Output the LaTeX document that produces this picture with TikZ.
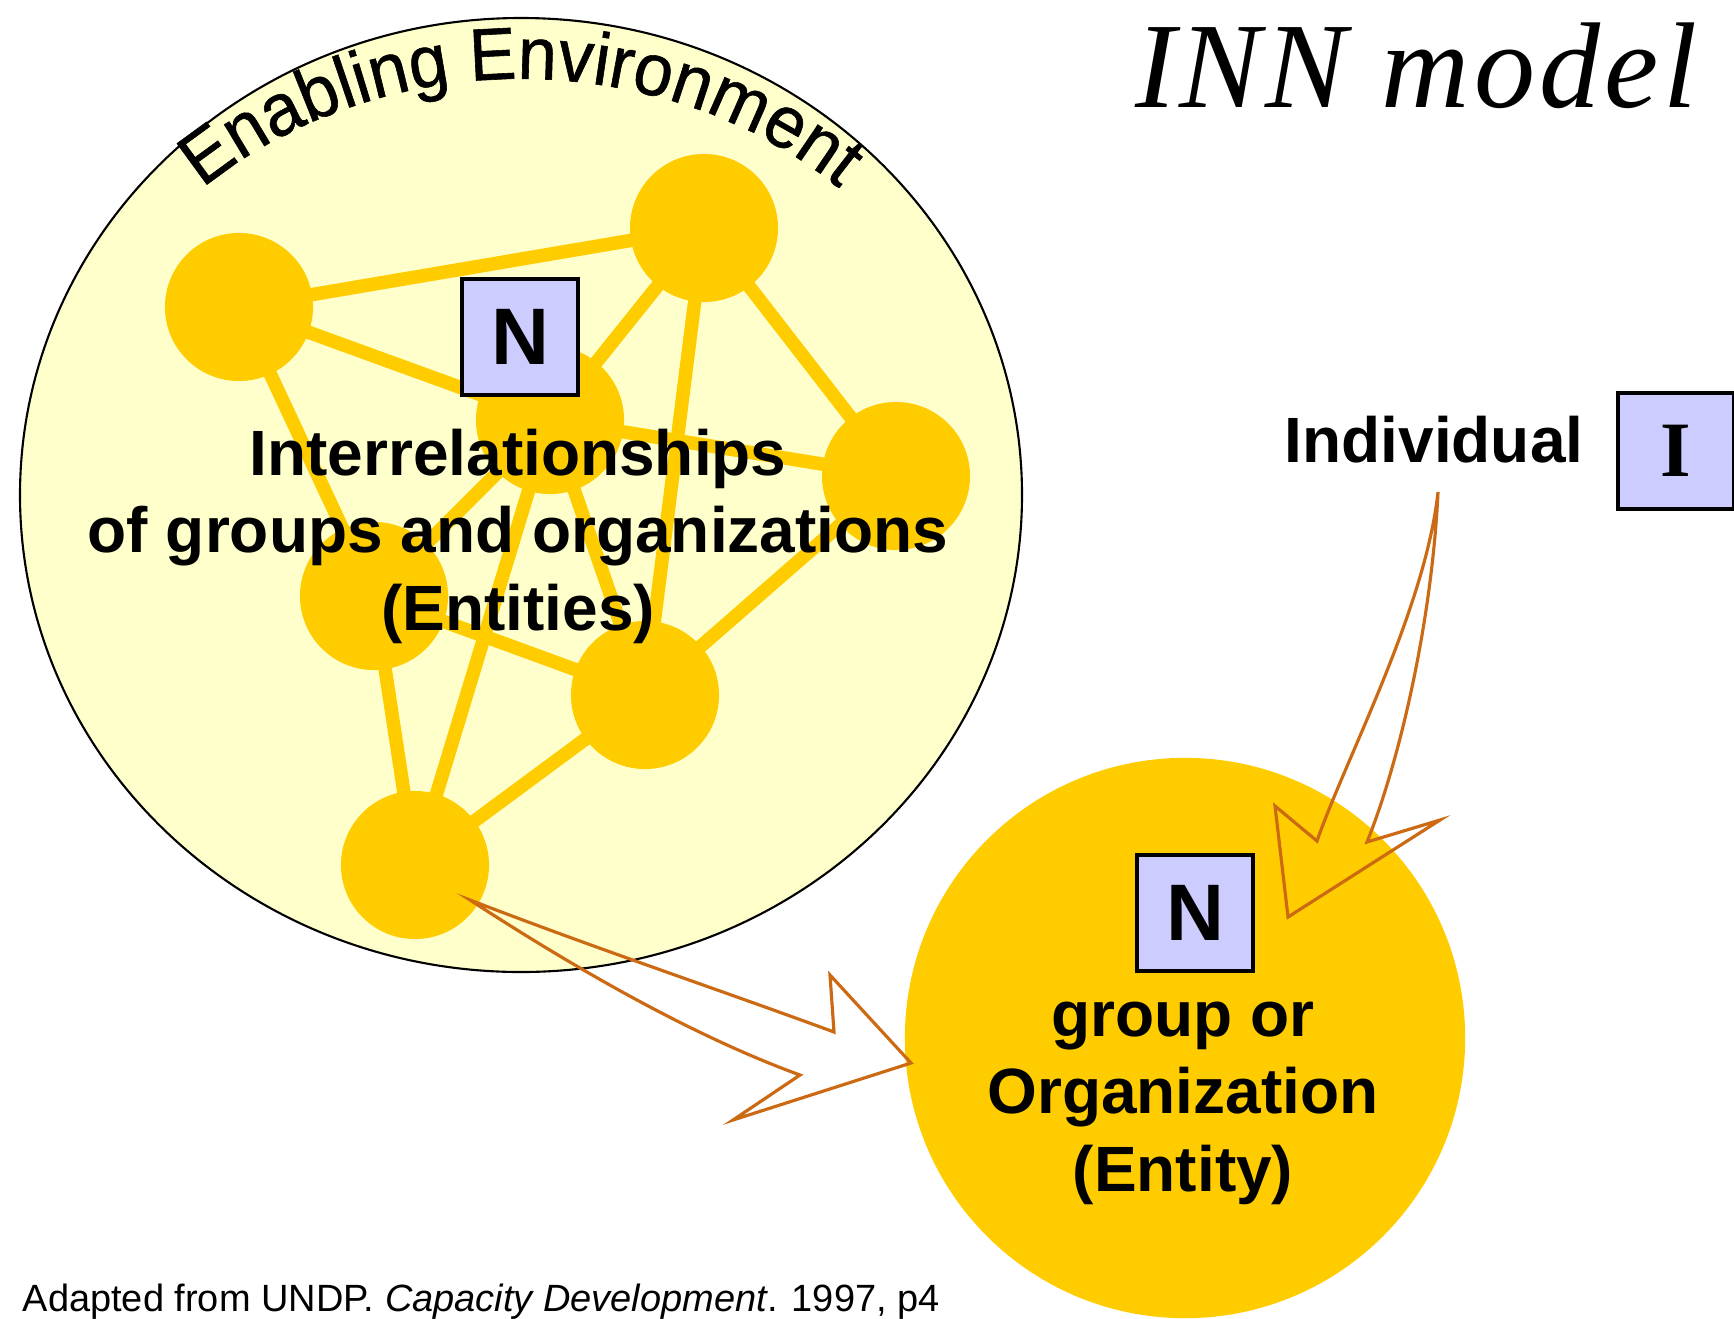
\documentclass[tikz,border=0pt]{standalone}
\usepackage{fontspec}
\setmainfont{Liberation Sans}
\newfontfamily\serifface{Liberation Serif}
\newfontfamily\titleface[LetterSpace=3.5]{Liberation Serif}
\newfontfamily\arcface[FakeStretch=0.95, FakeBold=0.8]{Liberation Sans}
\usepackage{xcolor}
\usepackage{tikz}
\usetikzlibrary{calc}
\usetikzlibrary{decorations.text}

\definecolor{envyellow}{HTML}{FFFFCC}
\definecolor{entgold}{HTML}{FFCC00}
\definecolor{boxlilac}{HTML}{CCCCFF}
\definecolor{arrowbrown}{HTML}{CC6A14}

\begin{document}
\begin{tikzpicture}[x=0.01cm, y=-0.01cm,
  entity/.style={circle, fill=entgold, minimum size=1.48cm, inner sep=0pt, outer sep=0pt},
  link/.style={entgold, line width=0.135cm},
  letterbox/.style={draw=black, line width=0.9pt, fill=boxlilac, minimum size=1.16cm, inner sep=0pt, font=\fontsize{22.8}{24}\selectfont\bfseries},
  textblock/.style={align=center, inner sep=0pt, font=\fontsize{18.2}{22.05}\selectfont\bfseries},
  blockarrow/.style={draw=arrowbrown, line width=0.9pt, line join=miter}]

  \useasboundingbox (0,0) rectangle (1734,1318);

  % enabling environment
  \coordinate (env) at (521,495);
  \draw[fill=envyellow, line width=0.6pt] (env) ellipse [x radius=501, y radius=477];
  \path[decorate, decoration={text along path, text align=center,
      text={|\arcface\fontsize{21}{21}\selectfont|Enabling Environment}}]
    (env) ++(-170:471 and 416) arc[start angle=-170, end angle=-10, x radius=471, y radius=416];

  % entities and their links
  \node[entity] (ent-nw) at (239,307) {};
  \node[entity] (ent-ne) at (704,228) {};
  \node[entity] (ent-c)  at (550,420) {};
  \node[entity] (ent-e)  at (896,476) {};
  \node[entity] (ent-w)  at (374,596) {};
  \node[entity] (ent-se) at (645,695) {};
  \node[entity] (ent-s)  at (415,865) {};
  \foreach \a/\b in {nw/ne, nw/c, nw/w, ne/c, ne/e, ne/se, c/e, c/w, c/s, c/se, w/se, w/s, se/s, e/se} {
    \draw[link] (ent-\a.center) -- (ent-\b.center);
  }

  \node[letterbox] (env-n) at (520,337) {N};
  \node[textblock] (env-text) at (518,536) {Interrelationships\\of groups and organizations\\(Entities)};

  % group or organization
  \node[circle, fill=entgold, minimum size=5.6cm, inner sep=0pt] (org) at (1185,1038) {};
  \node[letterbox] (org-n) at (1195,913) {N};
  \node[textblock] (org-text) at (1183,1103) {group or\\Organization\\(Entity)};

  % individual
  \node[anchor=base, inner sep=0pt, font=\fontsize{18.2}{22}\selectfont\bfseries] (indiv) at (1434,462) {Individual};
  \node[letterbox, font=\serifface\bfseries\fontsize{22.3}{24}\selectfont] (indiv-i) at (1676,451) {I};

  \node[anchor=base, inner sep=0pt, font=\titleface\itshape\fontsize{34.7}{40}\selectfont] (title) at (1416,107) {INN model};
  \node[anchor=base west, inner sep=0pt, font=\fontsize{10.8}{12}\selectfont] (source) at (22,1311) {Adapted from UNDP. \textit{Capacity Development}. 1997, p4};

  % arrows
  \draw[blockarrow] (470,900) .. controls (600,950) and (720,990) .. (834,1032)
    -- (830,975) -- (911,1063) -- (733,1120) -- (800,1075)
    .. controls (690,1035) and (570,965) .. (470,900) -- cycle;
  \draw[blockarrow] (1438,492) .. controls (1425,610) and (1345,760) .. (1317,841)
    -- (1275,806) -- (1288,917) -- (1440,820) -- (1367,842)
    .. controls (1400,760) and (1432,620) .. (1438,492) -- cycle;
\end{tikzpicture}
\end{document}
